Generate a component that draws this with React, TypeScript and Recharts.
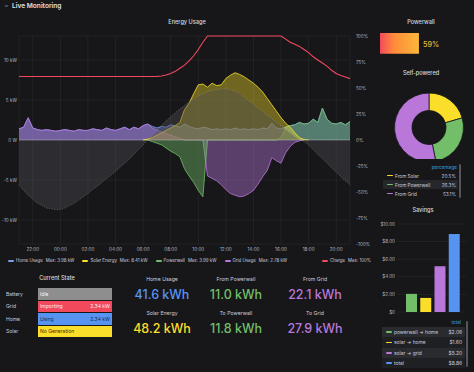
import React from "react";
import {
  Area,
  Bar,
  BarChart,
  CartesianGrid,
  Cell,
  ComposedChart,
  Line,
  Pie,
  PieChart,
  ReferenceLine,
  XAxis,
  YAxis,
} from "recharts";

// samples every 20 minutes, starting 21:00 the day before
const STEP_MIN = 20;
const START_HOUR = 21;
const hourTicks = ["22:00", "00:00", "02:00", "04:00", "06:00", "08:00", "10:00", "12:00", "14:00", "16:00", "18:00", "20:00"];

const home = [
  1.4, 1.6, 2.78, 1.5, 1.3, 1.2, 1.3, 1.2, 1.1, 1.2,
  1.3, 1.2, 1.1, 1.3, 1.2, 1.2, 1.4, 1.3, 1.2, 1.5,
  1.3, 1.2, 1.4, 1.6, 1.3, 1.6, 1.4, 1.8, 2.0, 1.7,
  1.5, 1.7, 1.6, 1.9, 1.8, 1.6, 2.0, 1.7, 1.5, 1.4,
  1.6, 1.5, 1.3, 1.4, 1.3, 1.4, 1.3, 1.5, 1.3, 1.4,
  1.3, 1.4, 1.3, 1.5, 1.4, 2.1, 1.5, 1.4, 1.6, 1.8,
  1.9, 2.2, 2.0, 2.1, 2.6, 2.2, 3.98, 2.6, 2.1, 2.0,
  2.2, 1.9, 2.3,
];
const solar = [
  null, null, null, null, null, null, null, null, null, null,
  null, null, null, null, null, null, null, null, null, null,
  null, null, null, null, null, null, null, 0, 0.1, 0.3,
  0.6, 0.9, 1.2, 1.5, 1.8, 2.2, 3.8, 4.6, 5.8, 6.9,
  7.0, 6.6, 7.1, 6.8, 6.9, 7.7, 8.1, 8.41, 8.2, 7.9,
  7.5, 7.1, 6.6, 6.0, 5.2, 4.4, 3.6, 2.8, 2.1, 1.6,
  0.9, 0.3, 0.05, 0, null, null, null, null, null, null,
  null, null, null,
];
const powerwall = [
  null, null, null, null, null, null, null, null, null, null,
  null, null, null, null, null, null, null, null, null, null,
  null, null, null, null, null, null, null, 0, 0, -0.2,
  -0.4, -0.6, -1.0, -1.4, -1.7, -2.1, -3.6, -4.5, -5.3, -6.3,
  -7.1, 0, 0, 0, 0, 0, 0, 0, 0, 0,
  0, 0, 0, 0, 0, 0, 0, 0.3, 1.6, 1.8,
  1.9, 2.2, 2.0, 2.1, 2.6, 2.2, 3.99, 2.6, 2.1, 2.0,
  2.2, 1.9, 2.3,
];
const grid = [
  1.4, 1.6, 2.78, 1.5, 1.3, 1.2, 1.3, 1.2, 1.1, 1.2,
  1.3, 1.2, 1.1, 1.3, 1.2, 1.2, 1.4, 1.3, 1.2, 1.5,
  1.3, 1.2, 1.4, 1.6, 1.3, 1.6, 1.4, 1.8, 2.0, 1.5,
  1.2, 1.0, 0.8, 0.6, 0.4, 0.2, 0, 0, 0, 0,
  0, -4.5, -4.8, -5.1, -5.6, -6.2, -6.7, -6.9, -7.1, -7.0,
  -6.7, -6.3, -5.5, -4.6, -3.8, -2.2, -2.6, -2.9, -1.6, -0.8,
  -0.3, -0.1, 0, null, null, null, null, null, null, null,
  null, null, null,
];
// sun elevation, drawn in kW scale as a grey background shape
const sun = [
  -5.6, -6.3, -6.9, -7.4, -7.9, -8.2, -8.5, -8.6, -8.7, -8.7,
  -8.5, -8.2, -7.9, -7.5, -7.1, -6.7, -6.2, -5.8, -5.3, -4.8,
  -4.4, -3.9, -3.4, -2.9, -2.4, -1.8, -1.2, -0.6, 0.0, 0.6,
  1.2, 1.8, 2.4, 2.9, 3.4, 3.9, 4.3, 4.8, 5.2, 5.5,
  5.8, 6.0, 6.2, 6.3, 6.4, 6.4, 6.3, 6.1, 5.9, 5.4,
  4.9, 4.5, 4.0, 3.6, 3.1, 2.7, 2.2, 1.8, 1.3, 0.9,
  0.4, 0.1, -0.2, -0.6, -1.2, -1.8, -2.3, -2.9, -3.5, -4.0,
  -4.6, -5.1, -5.6,
];
const charge = [
  61, 61, 61, 61, 61, 61, 61, 61, 61, 61,
  61, 61, 61, 61, 61, 61, 61, 61, 61, 61,
  61, 61, 61, 61, 61, 61, 61, 61, 61, 61,
  61.2, 61.6, 62.5, 64, 66, 69, 72, 76, 81, 87,
  94, 100, 100, 100, 100, 100, 100, 100, 100, 100,
  100, 100, 100, 100, 100, 100, 100, 100, 97, 94,
  92, 90, 87, 84, 80, 77, 74, 71, 67, 64,
  62, 60.5, 59,
];

const kwTicks = [10, 5, 0, -5, -10];
const pctTicks = [100, 75, 50, 25, 0, -25, -50, -75, -100];

const usageNames = ["Home Usage", "Solar Energy", "Powerwall", "Grid Usage"];
const usageMax = ["3.98 kW", "8.41 kW", "3.99 kW", "2.78 kW"];

const stateRows = ["Battery", "Grid", "Home", "Solar"];
const stateText = ["Idle", "Importing", "Using", "No Generation"];
const stateValue = ["", "2.34 kW", "2.34 kW", ""];

const statTitles = [["Home Usage", "From Powerwall", "From Grid"], ["Solar Energy", "To Powerwall", "To Grid"]];
const statValues = [["41.6 kWh", "11.0 kWh", "22.1 kWh"], ["48.2 kWh", "11.8 kWh", "27.9 kWh"]];

const powerwallLevel = 59;

const sources = ["From Solar", "From Powerwall", "From Grid"];
const selfPowered = [20.5, 26.3, 53.1];

const savingsNames = ["powerwall → home", "solar → home", "solar → grid", "total"];
const savings = [2.06, 1.6, 5.2, 8.86];

const BG = "#17171a";
const TEXT = "#ccccdc";
const HOME = "#7d9bf0";
const SOLAR = "#fade2a";
const PW = "#73bf69";
const GRID = "#b877d9";
const CHARGE = "#f2495c";
const BLUE = "#5794f2";
const FONT = "Inter, Roboto, 'DejaVu Sans', sans-serif";

const usageColors = [HOME, SOLAR, PW, GRID];
const stateColors = ["#8e8e8e", CHARGE, BLUE, SOLAR];
const stateInk = ["#f4f4f4", "#fff2f2", "#132a55", "#3a3000"];
const statColors = [[BLUE, PW, GRID], [SOLAR, PW, GRID]];
const sourceColors = [SOLAR, PW, GRID];
const savingsColors = [PW, SOLAR, GRID, BLUE];

const tickOffset = (label: string) => {
  const h = parseInt(label.slice(0, 2), 10);
  return ((h - START_HOUR) * 60 + 1440) % 1440;
};
const fmtTime = (m: number) => {
  const total = (START_HOUR * 60 + m) % 1440;
  const h = Math.floor(total / 60);
  return `${String(h).padStart(2, "0")}:00`;
};
const fmtKw = (v: number) => (v === 0 ? "0 W" : `${v} kW`);

const usageData = home.map((h, i) => ({
  t: i * STEP_MIN,
  home: h,
  solar: solar[i],
  powerwall: powerwall[i],
  grid: grid[i],
  sun: sun[i],
  charge: charge[i],
}));

const selfData = sources.map((name, i) => ({ name, v: selfPowered[i] }));
const savingsData = savingsNames.map((name, i) => ({ name, v: savings[i] }));
const gaugeData = [{ name: "Powerwall", v: powerwallLevel }];

const TICK_FILL = "#b4b4bc";
const axisTick = { fill: TICK_FILL, fontSize: 4.6, fontFamily: FONT };

// plain text tick, no word wrapping
function makeTick(fmt: (v: number) => string, anchor: "start" | "end") {
  return (props: any) => (
    <text x={props.x} y={props.y} dy="0.35em" textAnchor={anchor} fill={TICK_FILL} fontSize={4.6} fontFamily={FONT}>
      {fmt(props.payload.value)}
    </text>
  );
}

const abs = (left: number, top: number, extra: React.CSSProperties = {}): React.CSSProperties => ({
  position: "absolute",
  left,
  top,
  ...extra,
});

function Title({ x, y, children }: { x: number; y: number; children: React.ReactNode }) {
  return (
    <div style={abs(x - 50, y - 4, { width: 100, textAlign: "center", fontSize: 5.6, fontWeight: 500, color: "#d8d9da" })}>
      {children}
    </div>
  );
}

function Dash({ color }: { color: string }) {
  return <span style={{ display: "inline-block", width: 6, height: 1.6, background: color, borderRadius: 1, marginRight: 2, verticalAlign: "middle" }} />;
}

export default function App() {
  // drawn bottom to top
  const series = [
    { key: "home", color: HOME, op: 0.42 },
    { key: "grid", color: GRID, op: 0.42 },
    { key: "powerwall", color: PW, op: 0.42 },
    { key: "solar", color: SOLAR, op: 0.4 },
  ];
  return (
    <div style={abs(0, 0, { width: 474, height: 372, background: BG, overflow: "hidden", fontFamily: FONT, color: TEXT })}>
      {/* header */}
      <div style={abs(4, 1, { fontSize: 6, color: "#9fa0a6" })}>⌄</div>
      <div style={abs(12, 2, { fontSize: 6.6, fontWeight: 600, color: "#e0e0e6" })}>Live Monitoring</div>

      {/* energy usage */}
      <Title x={187} y={23}>Energy Usage</Title>
      <div style={abs(0, 15)}>
        <ComposedChart width={370} height={241} data={usageData} margin={{ top: 21, right: 0, bottom: 0, left: 0 }}>
          <CartesianGrid yAxisId="kw" stroke="rgba(255,255,255,0.09)" strokeWidth={0.6} />
          <XAxis
            dataKey="t"
            type="number"
            domain={[0, 1440]}
            ticks={hourTicks.map(tickOffset)}
            tickFormatter={fmtTime}
            interval={0}
            axisLine={false}
            tickLine={false}
            tickSize={0}
            tickMargin={4}
            height={12}
            tick={axisTick}
          />
          <YAxis
            yAxisId="kw"
            domain={[-13, 13]}
            ticks={kwTicks}
            width={19}
            axisLine={false}
            tickLine={false}
            tickSize={0}
            tickMargin={2}
            tick={makeTick(fmtKw, "end")}
            interval={0}
          />
          <YAxis
            yAxisId="pct"
            orientation="right"
            domain={[-100, 100]}
            ticks={pctTicks}
            width={20}
            axisLine={false}
            tickLine={false}
            tickSize={0}
            tickMargin={6}
            tick={makeTick((v) => `${v}%`, "start")}
            interval={0}
          />
          {series.map((s) => (
            <Area
              key={s.key}
              yAxisId="kw"
              dataKey={s.key}
              type="linear"
              stroke={s.color}
              strokeWidth={0.8}
              fill={s.color}
              fillOpacity={s.op}
              dot={false}
              activeDot={false}
              isAnimationActive={false}
            />
          ))}
          <Area
            yAxisId="kw"
            dataKey="sun"
            type="linear"
            stroke="#a8a8a8"
            strokeOpacity={0.55}
            strokeWidth={0.7}
            strokeDasharray="1.2 1.4"
            fill="#505055"
            fillOpacity={0.4}
            dot={false}
            activeDot={false}
            isAnimationActive={false}
          />
          <ReferenceLine yAxisId="kw" y={0} stroke="rgba(255,255,255,0.35)" strokeWidth={0.8} />
          <Line
            yAxisId="pct"
            dataKey="charge"
            type="linear"
            stroke={CHARGE}
            strokeWidth={1.1}
            dot={false}
            activeDot={false}
            isAnimationActive={false}
          />
        </ComposedChart>
      </div>
      <div style={abs(8, 258, { display: "flex", fontSize: 4.4, whiteSpace: "nowrap", lineHeight: "6px" })}>
        {usageNames.map((n, i) => (
          <span key={n} style={{ marginRight: 8, display: "flex", alignItems: "center" }}>
            <Dash color={usageColors[i]} />
            {n}
            <span style={{ marginLeft: 3 }}>Max: {usageMax[i]}</span>
          </span>
        ))}
      </div>
      <div style={abs(322, 258, { display: "flex", alignItems: "center", fontSize: 4.4, whiteSpace: "nowrap", lineHeight: "6px" })}>
        <Dash color={CHARGE} />
        Charge
        <span style={{ marginLeft: 3 }}>Max: 100%</span>
      </div>

      {/* current state */}
      <Title x={57} y={279}>Current State</Title>
      {stateRows.map((r, i) => {
        const top = [288, 300.5, 313, 325.5][i];
        return (
          <React.Fragment key={r}>
            <div style={abs(6, top + 2.5, { fontSize: 5, color: TEXT })}>{r}</div>
            <div
              style={abs(38, top, {
                width: 74,
                height: 11.5,
                background: stateColors[i],
                color: stateInk[i],
                fontSize: 5,
                display: "flex",
                alignItems: "center",
                justifyContent: "space-between",
                padding: "0 2px",
                boxSizing: "border-box",
              })}
            >
              <span>{stateText[i]}</span>
              <span>{stateValue[i]}</span>
            </div>
          </React.Fragment>
        );
      })}

      {/* stats */}
      {statTitles.map((row, r) =>
        row.map((t, c) => {
          const cx = [162, 236, 315][c];
          const ty = [279, 313][r];
          return (
            <React.Fragment key={t}>
              <div style={abs(cx - 40, ty - 3.5, { width: 80, textAlign: "center", fontSize: 5.2, color: TEXT })}>{t}</div>
              <div
                style={abs(cx - 45, ty + 8, {
                  width: 90,
                  textAlign: "center",
                  fontSize: 12.5,
                  fontWeight: 500,
                  color: statColors[r][c],
                  lineHeight: "16px",
                })}
              >
                {statValues[r][c]}
              </div>
            </React.Fragment>
          );
        })
      )}

      {/* powerwall gauge */}
      <Title x={421} y={23}>Powerwall</Title>
      <div style={abs(380, 32)}>
        <BarChart width={66} height={23} data={gaugeData} layout="vertical" margin={{ top: 0, right: 0, bottom: 0, left: 0 }}>
          <defs>
            <linearGradient id="pwGrad" x1="0" y1="0" x2="1" y2="0">
              <stop offset="0" stopColor="#f2495c" />
              <stop offset="0.35" stopColor="#ff8a3a" />
              <stop offset="1" stopColor="#fbb83a" />
            </linearGradient>
          </defs>
          <XAxis type="number" domain={[0, 100]} hide />
          <YAxis type="category" dataKey="name" hide />
          <Bar dataKey="v" fill="url(#pwGrad)" barSize={23} isAnimationActive={false} />
        </BarChart>
      </div>
      <div style={abs(423, 40, { fontSize: 7.2, color: "#e8be35", fontWeight: 500 })}>{powerwallLevel}%</div>

      {/* self powered */}
      <Title x={421} y={74}>Self-powered</Title>
      <div style={abs(372, 86)}>
        <PieChart width={104} height={73}>
          <Pie
            data={selfData}
            dataKey="v"
            cx={52}
            cy={36.5}
            innerRadius={17}
            outerRadius={34.5}
            startAngle={90}
            endAngle={-270}
            stroke={BG}
            strokeWidth={0.8}
            isAnimationActive={false}
          >
            {selfData.map((d, i) => (
              <Cell key={d.name} fill={sourceColors[i]} />
            ))}
          </Pie>
        </PieChart>
      </div>
      <div style={abs(420, 164, { width: 37, textAlign: "right", fontSize: 4.7, color: "#33a2e5" })}>percentage</div>
      {sources.map((s, i) => (
        <div
          key={s}
          style={abs(383, 171 + i * 9, {
            width: 75,
            height: 9,
            display: "flex",
            alignItems: "center",
            justifyContent: "space-between",
            fontSize: 4.7,
            padding: "0 2px 0 4px",
            boxSizing: "border-box",
            background: i === 1 ? "#26272b" : "transparent",
          })}
        >
          <span style={{ display: "flex", alignItems: "center" }}>
            <Dash color={sourceColors[i]} />
            {s}
          </span>
          <span>{selfPowered[i]}%</span>
        </div>
      ))}
      <div style={abs(459, 164, { width: 2, height: 34, background: "#55565c", borderRadius: 1 })} />

      {/* savings */}
      <Title x={423} y={211}>Savings</Title>
      <div style={abs(372, 218)}>
        <BarChart width={100} height={100} data={savingsData} margin={{ top: 6, right: 6, bottom: 6, left: 0 }}>
          <CartesianGrid vertical={false} stroke="rgba(255,255,255,0.09)" strokeWidth={0.6} />
          <XAxis dataKey="name" hide padding={{ left: 6, right: 5 }} />
          <YAxis
            domain={[0, 10]}
            ticks={[0, 2, 4, 6, 8, 10]}
            width={26}
            axisLine={false}
            tickLine={false}
            tickSize={0}
            tickMargin={3}
            tick={makeTick((v) => (v === 0 ? "$0" : `$${v.toFixed(2)}`), "end")}
            interval={0}
          />
          <Bar dataKey="v" barSize={11} isAnimationActive={false}>
            {savingsData.map((d, i) => (
              <Cell key={d.name} fill={savingsColors[i]} />
            ))}
          </Bar>
        </BarChart>
      </div>
      <div style={abs(430, 319, { width: 31, textAlign: "right", fontSize: 4.7, color: "#33a2e5" })}>total</div>
      <div style={abs(382, 327, { width: 83, height: 41, background: "#1f2023" })} />
      {savingsNames.map((s, i) => (
        <div
          key={s}
          style={abs(382, 327 + i * 10.3, {
            width: 83,
            height: 10.3,
            display: "flex",
            alignItems: "center",
            justifyContent: "space-between",
            fontSize: 4.9,
            padding: "0 3px 0 4px",
            boxSizing: "border-box",
            background: i % 2 === 0 ? "#2a2b2f" : "transparent",
          })}
        >
          <span style={{ display: "flex", alignItems: "center" }}>
            <Dash color={savingsColors[i]} />
            {s}
          </span>
          <span>${savings[i].toFixed(2)}</span>
        </div>
      ))}
      <div style={abs(466, 321, { width: 2, height: 46, background: "#55565c", borderRadius: 1 })} />
    </div>
  );
}
